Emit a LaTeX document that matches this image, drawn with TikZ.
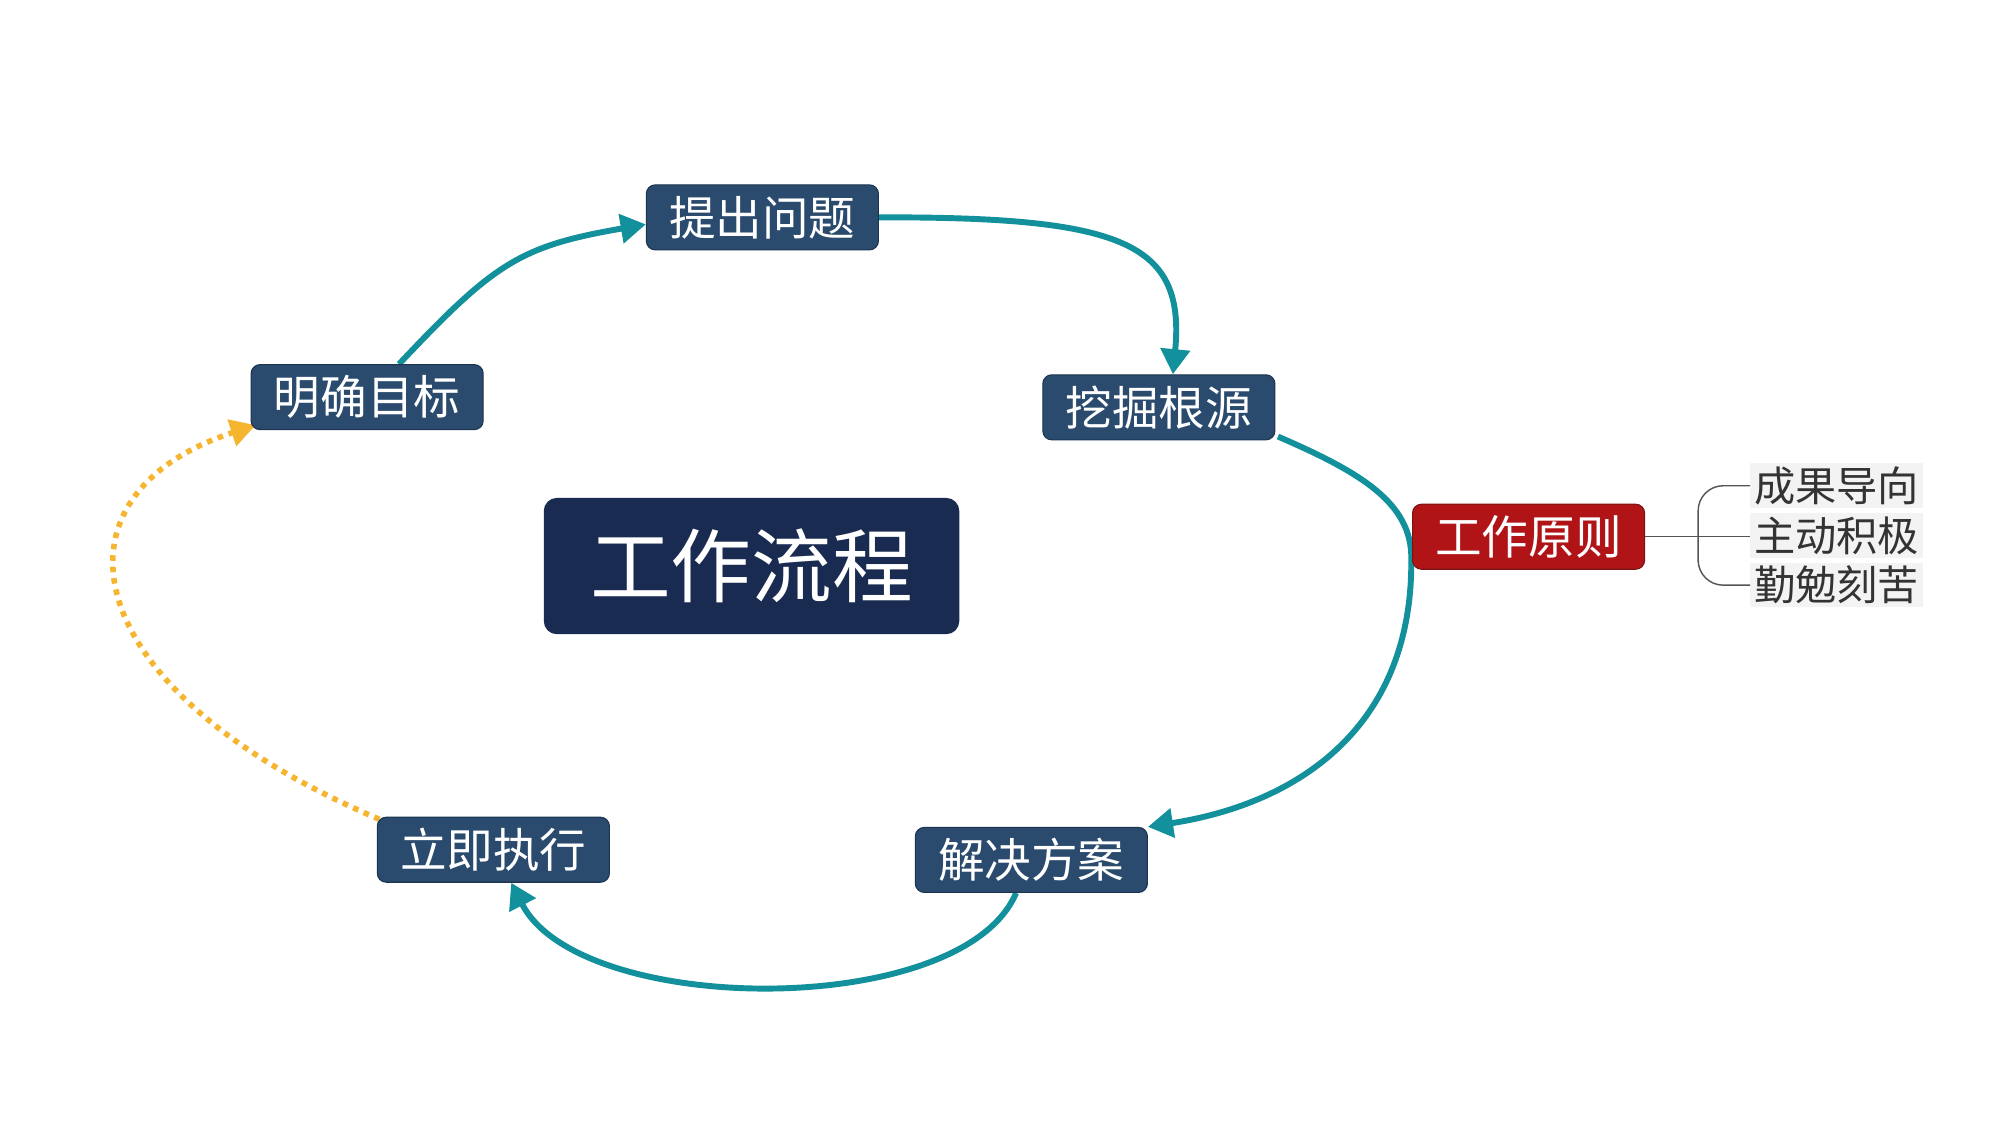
\documentclass[tikz,border=0pt]{standalone}
\usepackage{fontspec}
\newfontfamily\cjk{Noto Sans CJK SC}
\usetikzlibrary{arrows.meta,backgrounds,calc}

\definecolor{stepblue}{HTML}{2A4B6E}
\definecolor{stepedge}{HTML}{1C3450}
\definecolor{coreblue}{HTML}{1A2B51}
\definecolor{ruleRed}{HTML}{B01417}
\definecolor{ruleEdge}{HTML}{7A1414}
\definecolor{flowteal}{HTML}{12909B}
\definecolor{loopgold}{HTML}{F5B52E}
\definecolor{itemgray}{HTML}{F4F3F3}
\definecolor{itemtext}{HTML}{333333}
\definecolor{bracegray}{HTML}{555555}

\begin{document}
\begin{tikzpicture}[x=0.025cm,y=-0.025cm,
  stepbox/.style={rectangle, rounded corners=5pt, fill=stepblue, draw=stepedge,
    line width=0.6pt, text=white, inner sep=0pt,
    minimum width=4.55cm, minimum height=1.275cm,
    font=\cjk\fontsize{26}{30}\selectfont},
  corebox/.style={stepbox, fill=coreblue, draw=coreblue, rounded corners=7pt,
    minimum width=8.125cm, minimum height=2.65cm,
    font=\cjk\fontsize{45}{50}\selectfont},
  rulebox/.style={stepbox, fill=ruleRed, draw=ruleEdge},
  itembox/.style={rectangle, fill=itemgray, inner sep=0pt, text=itemtext,
    minimum width=3.375cm, minimum height=0.875cm,
    font=\cjk\fontsize{23}{26}\selectfont},
  flow/.style={draw=flowteal, line width=3.3pt,
    -{Triangle[length=14pt,width=16pt]}},
  loop/.style={draw=loopgold, line width=3.1pt, dash pattern=on 3.1pt off 3.3pt,
    -{Triangle[length=14pt,width=15pt,fill=loopgold]}},
  brace/.style={draw=bracegray, line width=0.8pt}]

  % page area
  \useasboundingbox (0,0) rectangle (1568,882);
  \begin{scope}[on background layer]
    \fill[white] (0,0) rectangle (1568,882);
  \end{scope}

  % process steps
  \node[stepbox] (tiwen)  at (598,170.5) {提出问题};
  \node[stepbox] (mubiao) at (288,311.5) {明确目标};
  \node[stepbox] (wajue)  at (909,319.5) {挖掘根源};
  \node[stepbox] (jiejue) at (809,674.5) {解决方案};
  \node[stepbox] (lizhi)  at (387,666.5) {立即执行};
  \node[corebox] (core)   at (589.5,444) {工作流程};

  % principles
  \node[rulebox] (rule) at (1199,421) {工作原则};
  \node[itembox] (itemA) at (1440.5,381) {成果导向};
  \node[itembox] (itemB) at (1440.5,420) {主动积极};
  \node[itembox] (itemC) at (1440.5,459) {勤勉刻苦};
  \coordinate (fork) at (1332,421);

  \draw[brace] (rule.east) -- (rule.east -| itemB.west);
  \draw[brace, rounded corners=14pt] (itemA.west) -| (fork) |- (itemC.west);

  % connectors of the cycle, kept behind the boxes
  \coordinate (touch) at (1107,439);
  \begin{scope}[on background layer]
    \draw[flow] ($(mubiao.north)+(25,0)$)
      .. controls (388,206) and (408,193) .. ($(tiwen.west)+(0,5.5)$);
    \draw[flow] (tiwen.east)
      .. controls (880,170) and (930,190) .. ($(wajue.north)+(11,0)$);
    \draw[flow] ($(wajue.south east)+(2,-3)$)
      .. controls (1066,370) and (1108,394) .. (touch)
      .. controls (1108,569) and (1020,630) .. (jiejue.north east);
    \draw[flow] ($(jiejue.south)+(-12,0)$)
      .. controls (755,800) and (455,798) .. ($(lizhi.south)+(14,0)$);
    \draw[loop] ($(lizhi.north west)+(2,2)$)
      .. controls (59,542) and (30,389) .. ($(mubiao.south west)+(4,-4)$);
  \end{scope}
\end{tikzpicture}
\end{document}
